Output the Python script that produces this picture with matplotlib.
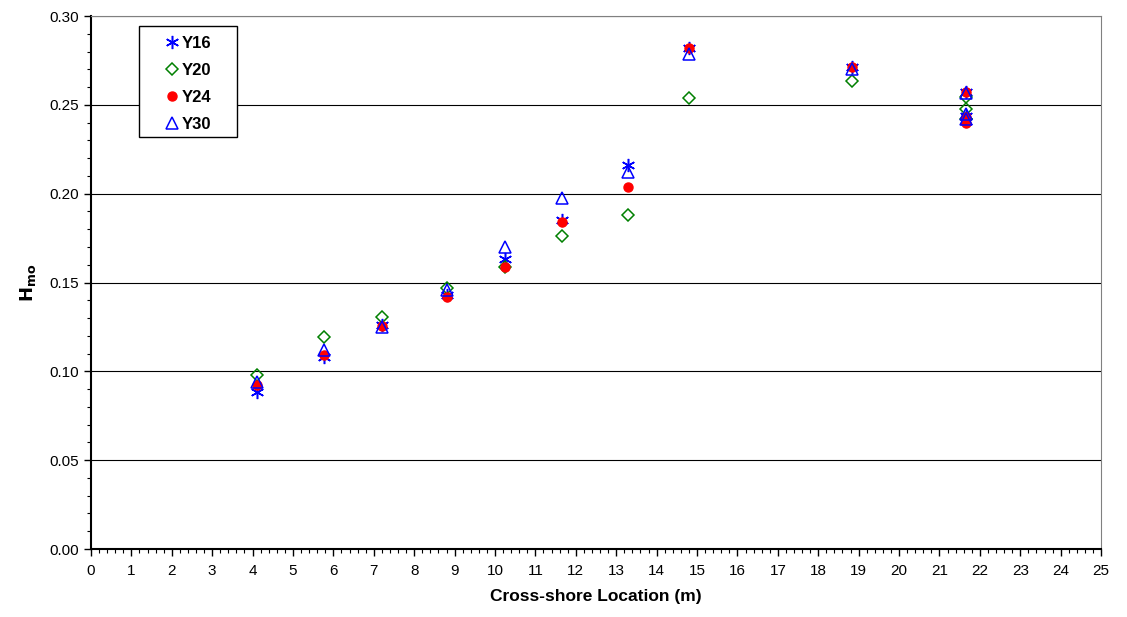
import numpy as np
import matplotlib.pyplot as plt
from matplotlib.patches import Rectangle
from matplotlib.ticker import MultipleLocator, FormatStrFormatter

plt.rcParams["font.family"] = ["Liberation Sans", "DejaVu Sans"]

# posiciones en el eje x (m)
x_loc = [4.1, 5.77, 7.2, 8.8, 10.25, 11.65, 13.28, 14.8, 18.84, 21.66, 21.66, 21.66]

y16 = [0.0886, 0.108, 0.126, 0.143, 0.163, 0.185, 0.216, 0.2818, 0.2715, 0.257, 0.244, 0.241]
y20 = [0.0979, 0.1193, 0.1308, 0.147, 0.159, 0.176, 0.188, 0.254, 0.2636, 0.2545, 0.2475, 0.242]
y24 = [0.0923, 0.109, 0.1255, 0.142, 0.159, 0.1842, 0.2036, 0.2818, 0.2715, 0.257, 0.243, 0.2396]
y30 = [0.0942, 0.112, 0.1251, 0.146, 0.170, 0.1975, 0.2124, 0.2786, 0.270, 0.2565, 0.245, 0.242]

fig = plt.figure(figsize=(11.27, 6.17), dpi=100)
ax = fig.add_axes([0.0807, 0.1102, 0.8963, 0.8638])

ax.plot(x_loc, y16, linestyle="none", marker=(6, 2, 0), markersize=9.5,
        color="#0000ff", markeredgewidth=1.1, label="Y16", zorder=3)
ax.plot(x_loc, y20, linestyle="none", marker="D", markersize=6,
        markerfacecolor="none", markeredgecolor="#008000", markeredgewidth=1.1,
        label="Y20", zorder=3)
ax.plot(x_loc, y24, linestyle="none", marker="o", markersize=6.5,
        color="#ff0000", label="Y24", zorder=3)
ax.plot(x_loc, y30, linestyle="none", marker="^", markersize=8.5,
        markerfacecolor="none", markeredgecolor="#0000ff", markeredgewidth=1.1,
        label="Y30", zorder=3)

ax.set_xlim(0, 25)
ax.set_ylim(0, 0.30)
ax.xaxis.set_major_locator(MultipleLocator(1))
ax.xaxis.set_minor_locator(MultipleLocator(0.2))
ax.yaxis.set_major_locator(MultipleLocator(0.05))
ax.yaxis.set_minor_locator(MultipleLocator(0.01))
ax.yaxis.set_major_formatter(FormatStrFormatter("%.2f"))

ax.grid(axis="y", which="major", color="black", linewidth=0.8, zorder=0)
ax.set_axisbelow(True)

ax.tick_params(which="major", direction="out", length=5, width=1, labelsize=11)
ax.tick_params(which="minor", direction="out", length=3, width=0.8)
ax.tick_params(axis="x", pad=6)

for s in ["top", "right"]:
    ax.spines[s].set_color("#808080")
for s in ["left", "bottom"]:
    ax.spines[s].set_linewidth(1.5)

ax.set_xlabel("Cross-shore Location (m)", fontsize=12.5, fontweight="bold", labelpad=8)
ax.set_ylabel(r"$\mathbf{H_{mo}}$", fontsize=13, labelpad=8)

# caja de la leyenda
ax.add_patch(Rectangle((0.0475, 0.773), 0.097, 0.208, transform=ax.transAxes,
                       facecolor="white", edgecolor="black", linewidth=1.0, zorder=4))
leg = ax.legend(loc="upper left", bbox_to_anchor=(0.0718, 0.963), frameon=False,
                prop={"weight": "bold", "size": 12}, handletextpad=0.1,
                handlelength=1.0, borderpad=0, borderaxespad=0, labelspacing=0.72)
leg.set_zorder(5)

plt.savefig("out.png", dpi=100)
plt.close()
